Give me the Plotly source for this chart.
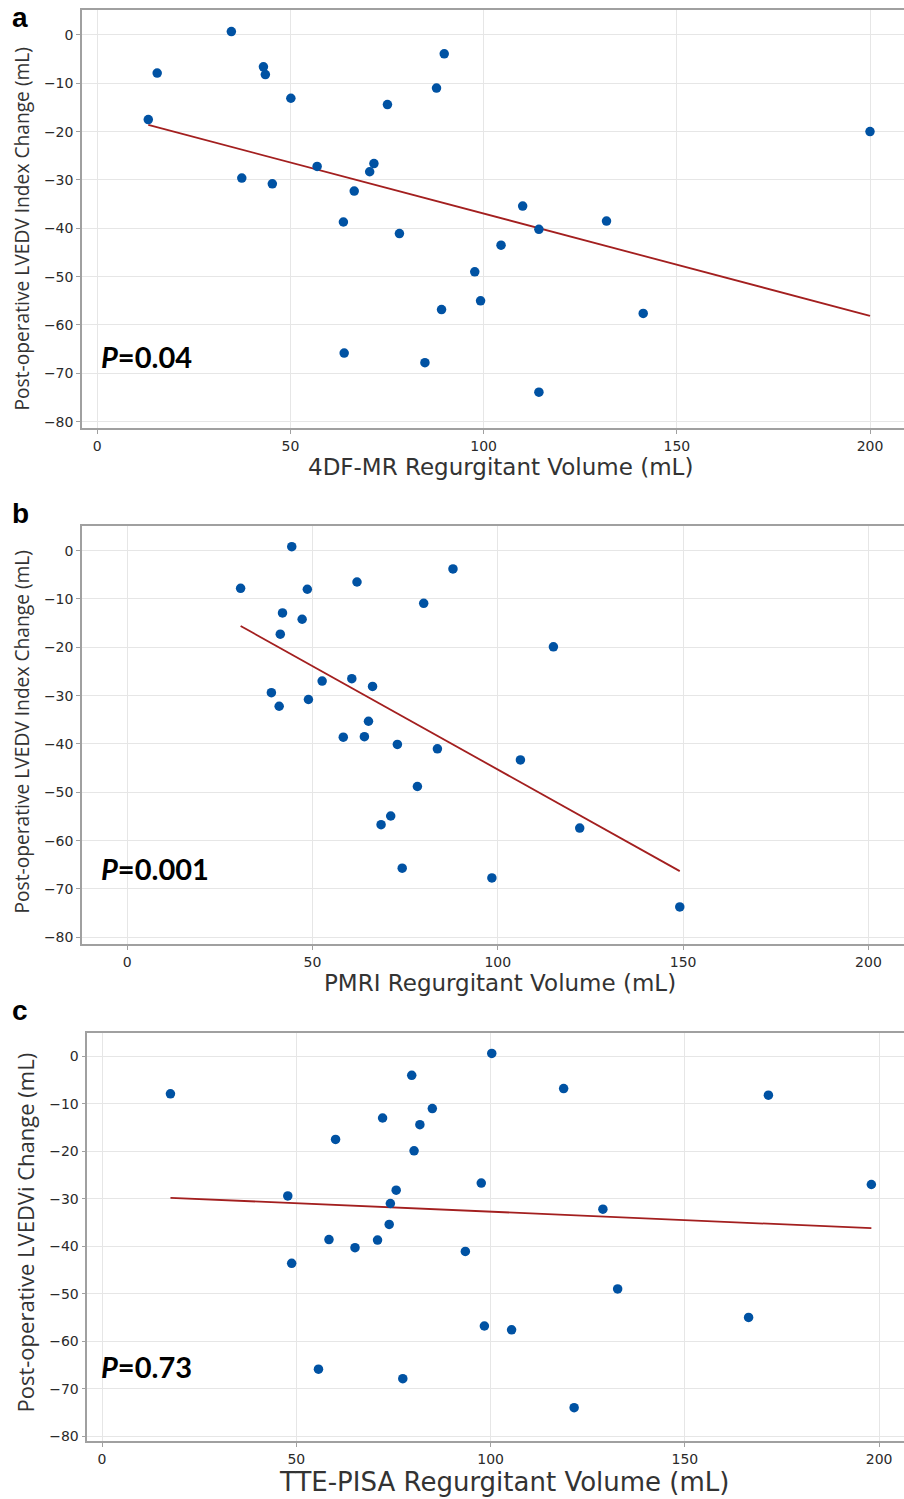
import plotly.graph_objects as go

# ---- data ----
a_x = [34.7, 15.5, 43.0, 43.5, 89.8, 87.8, 50.1, 75.1, 13.2, 200.0, 56.9, 71.6, 70.5, 37.4, 45.3,
       66.5, 110.1, 131.8, 63.7, 114.3, 78.2, 104.5, 97.7, 99.2, 89.1, 141.3, 63.9, 84.8, 114.3]
a_y = [0.7, -7.9, -6.6, -8.2, -3.9, -11.0, -13.1, -14.4, -17.5, -20.0, -27.2, -26.6, -28.3, -29.6, -30.8,
       -32.3, -35.4, -38.5, -38.7, -40.2, -41.1, -43.5, -49.0, -55.0, -56.8, -57.6, -65.8, -67.8, -73.9]
a_fit_x = [13.2, 200.0]
a_fit_y = [-18.6, -58.1]

b_x = [44.4, 87.9, 62.0, 30.6, 48.6, 80.0, 41.9, 47.2, 41.3, 115.0, 52.6, 60.6, 66.2, 38.9, 48.9,
       41.0, 65.1, 58.3, 64.0, 72.9, 83.7, 106.1, 78.3, 71.1, 68.5, 122.1, 74.2, 98.4, 149.1]
b_y = [0.8, -3.8, -6.5, -7.8, -8.0, -10.9, -12.9, -14.2, -17.3, -19.9, -27.0, -26.5, -28.1, -29.4, -30.8,
       -32.2, -35.3, -38.6, -38.5, -40.1, -41.0, -43.3, -48.8, -54.9, -56.7, -57.4, -65.7, -67.7, -73.7]
b_fit_x = [30.6, 149.1]
b_fit_y = [-15.6, -66.3]

c_x = [100.3, 79.7, 118.8, 17.6, 171.5, 85.0, 72.2, 81.8, 60.1, 80.3, 97.6, 198.0, 75.7, 47.8, 74.2,
       128.9, 73.9, 58.4, 70.9, 65.1, 93.5, 48.8, 132.7, 166.4, 98.4, 105.4, 55.7, 77.4, 121.5]
c_y = [0.6, -4.0, -6.8, -7.9, -8.2, -11.0, -13.0, -14.4, -17.5, -19.9, -26.7, -27.0, -28.2, -29.4, -31.0,
       -32.2, -35.4, -38.6, -38.7, -40.3, -41.1, -43.6, -49.0, -55.0, -56.8, -57.6, -65.9, -67.9, -74.0]
c_fit_x = [17.6, 198.0]
c_fit_y = [-29.8, -36.2]

x_ticks = [0, 50, 100, 150, 200]
y_ticks = [0, -10, -20, -30, -40, -50, -60, -70, -80]

panel_letters = ["a", "b", "c"]
p_labels = ["<i>P</i>=0.04", "<i>P</i>=0.001", "<i>P</i>=0.73"]
x_titles = ["4DF-MR Regurgitant Volume (mL)", "PMRI Regurgitant Volume (mL)",
            "TTE-PISA Regurgitant Volume (mL)"]
y_titles = ["Post-operative LVEDV Index Change (mL)", "Post-operative LVEDV Index Change (mL)",
            "Post-operative LVEDVi Change (mL)"]

W, H = 904, 1499
def px(x):
    return x / W
def py(y):
    return 1 - y / H

MARKER = "#0052A3"
LINE = "#A31F1F"
FONT = "Open Sans, Liberation Sans, sans-serif"
WIDE = "DejaVu Sans, Verdana, sans-serif"

fig = go.Figure()
datasets = [(a_x, a_y, a_fit_x, a_fit_y), (b_x, b_y, b_fit_x, b_fit_y), (c_x, c_y, c_fit_x, c_fit_y)]
for i, (xs, ys, fx, fy) in enumerate(datasets):
    ax = "x" if i == 0 else f"x{i+1}"
    ay = "y" if i == 0 else f"y{i+1}"
    fig.add_trace(go.Scatter(x=fx, y=fy, mode="lines", line=dict(color=LINE, width=1.8),
                             xaxis=ax, yaxis=ay, showlegend=False, hoverinfo="skip"))
    fig.add_trace(go.Scatter(x=xs, y=ys, mode="markers",
                             marker=dict(color=MARKER, size=9.5, line=dict(width=0)),
                             xaxis=ax, yaxis=ay, showlegend=False))

# panel geometry in pixels: (left, top, bottom), x range, y range
geom = [
    dict(left=82, top=10, bottom=429.3, xr=[-3.96, 208.8], yr=[-81.4, 5.16]),
    dict(left=82, top=526.7, bottom=946, xr=[-12.2, 209.6], yr=[-81.4, 5.16]),
    dict(left=87.3, top=1034.7, bottom=1444.3, xr=[-3.8, 206.4], yr=[-81.1, 4.98]),
]

layout = dict(width=W, height=H, margin=dict(l=0, r=0, t=0, b=0),
              paper_bgcolor="white", plot_bgcolor="white", showlegend=False)
for i, g in enumerate(geom):
    xk = "xaxis" if i == 0 else f"xaxis{i+1}"
    yk = "yaxis" if i == 0 else f"yaxis{i+1}"
    yanchor = "y" if i == 0 else f"y{i+1}"
    xanchor = "x" if i == 0 else f"x{i+1}"
    layout[xk] = dict(domain=[px(g["left"]), 1], range=g["xr"], anchor=yanchor,
                      tickvals=x_ticks, ticktext=[str(v) for v in x_ticks],
                      showgrid=True, gridcolor="#E6E6E6", gridwidth=1, zeroline=False,
                      showline=True, linecolor="#A0A0A0", linewidth=1.5, mirror=True,
                      ticks="outside", ticklen=4, tickcolor="#A0A0A0",
                      tickfont=dict(family=WIDE, size=14, color="#2A2A2A"))
    layout[yk] = dict(domain=[py(g["bottom"]), py(g["top"])], range=g["yr"], anchor=xanchor,
                      tickvals=y_ticks,
                      showgrid=True, gridcolor="#E6E6E6", gridwidth=1, zeroline=False,
                      showline=True, linecolor="#A0A0A0", linewidth=1.5,
                      ticks="outside", ticklen=4, tickcolor="#A0A0A0",
                      tickfont=dict(family=WIDE, size=14, color="#2A2A2A"))

annotations = []
letter_y = [18, 515, 1013]
p_y = [357, 870, 1369]
xt_y = [468, 985, 1485]
xt_x = [500, 500, 504]
yt_y = [229, 733, 1235]
yt_x = [22, 22, 25]
xt_sizes = [23, 23, 26]
yt_sizes = [19.2, 19.2, 22]
for i in range(3):
    annotations.append(dict(text=f"<b>{panel_letters[i]}</b>", x=px(20), y=py(letter_y[i]),
                            xref="paper", yref="paper", showarrow=False,
                            font=dict(family="Liberation Sans, Arial, sans-serif", size=28, color="black"),
                            xanchor="center", yanchor="middle"))
    annotations.append(dict(text=f"<b>{p_labels[i]}</b>", x=px(99), y=py(p_y[i]),
                            xref="paper", yref="paper", showarrow=False,
                            font=dict(family="Lato, Liberation Sans, sans-serif", size=29, color="black"),
                            xanchor="left", yanchor="middle"))
    annotations.append(dict(text=x_titles[i], x=px(xt_x[i]), y=py(xt_y[i]),
                            xref="paper", yref="paper", showarrow=False,
                            font=dict(family=WIDE, size=xt_sizes[i], color="#333333"),
                            xanchor="center", yanchor="middle"))
    annotations.append(dict(text=y_titles[i], x=px(yt_x[i]), y=py(yt_y[i]),
                            xref="paper", yref="paper", showarrow=False, textangle=-90,
                            font=dict(family=FONT, size=yt_sizes[i], color="#333333"),
                            xanchor="center", yanchor="middle"))
layout["annotations"] = annotations

fig.update_layout(**layout)
fig.write_html("out.html", config={"displayModeBar": False},
               post_script="document.body.style.margin='0';document.body.style.overflow='hidden';")
